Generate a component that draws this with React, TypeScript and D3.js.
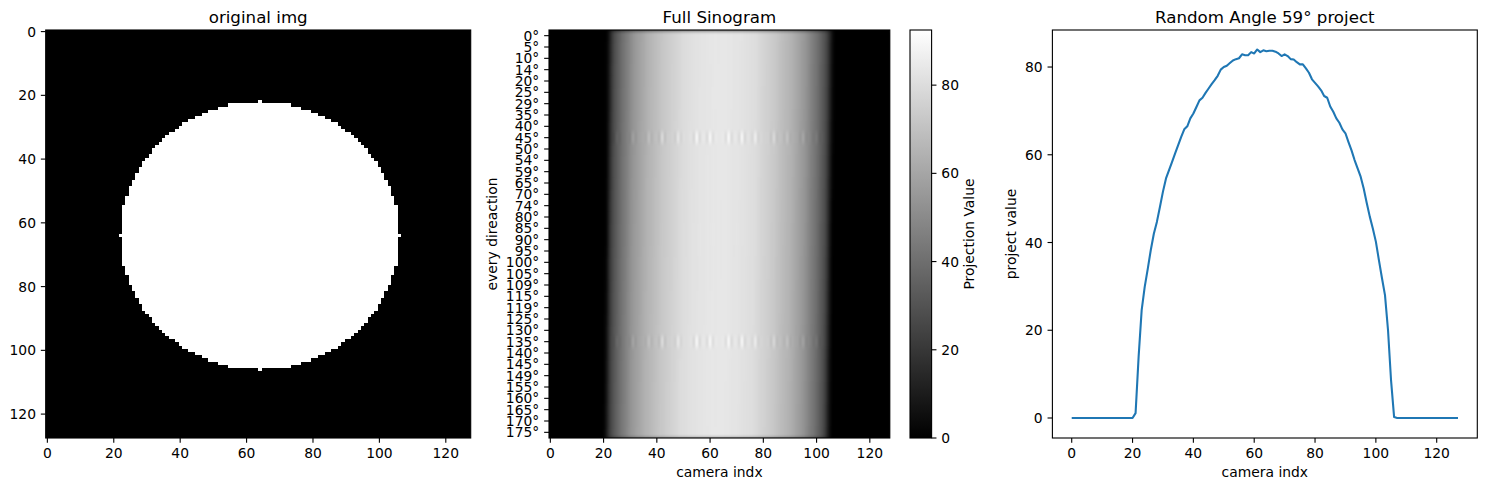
import React from "react";
import * as d3 from "d3";

const W = 1487, H = 490;
const FONT = "'DejaVu Sans', sans-serif";

const discHalfWidths = [42,41,41,41,41,41,41,41,41,41,40,40,40,39,39,39,38,38,37,37,36,36,35,35,34,33,32,32,31,30,29,28,27,25,24,23,21,19,17,15,12,9,0];
const discCentre = 64;
const imageTicks = [0,20,40,60,80,100,120];

const projection = [0,0,0,0,0,0,0,0,0,0,0,0,0,0,0,0,0,0,0,0,0,1.1,14,24.6,29.9,34,38.3,42,44.7,48.1,51.6,54.6,56.5,58.4,60.3,62.2,64.1,65.8,66.5,68.3,69.4,70.9,72.4,73,74.1,75.1,76.1,77,78,79.4,80,80.3,80.9,81.5,81.8,82,82.9,82.7,82.7,83.4,83.1,84,83.4,83.8,83.6,83.7,83.7,83.5,83.1,82.5,82.9,82.5,81.8,81.7,81.1,80.6,80.6,79.7,78.7,77.2,76.4,75.6,74.7,73.4,73,71,69.8,68.3,67.3,65.8,64.9,62.9,61,58.8,56.9,55,52.3,49,45.9,43.2,40.2,36,31.9,28,20,8.5,0.2,0,0,0,0,0,0,0,0,0,0,0,0,0,0,0,0,0,0,0,0,0];

const angleLabels = [0,5,10,14,20,25,29,35,40,45,50,54,59,65,70,74,80,85,90,95,100,105,109,115,119,125,130,135,140,145,149,155,160,165,170,175];
const rowShift = [0.55,0.5,0.5,0.45,0.45,0.4,0.4,0.35,0.3,0.3,0.25,0.2,0.2,0.15,0.1,0.05,0.05,0,0,-0.05,-0.1,-0.1,-0.15,-0.2,-0.2,-0.25,-0.3,-0.3,-0.35,-0.4,-0.4,-0.45,-0.45,-0.5,-0.5,-0.55];
const rippleRows = [9,27];
const rippleCols = [25,31,37,42,48,55,60,67,72,77,84,89,95,100];
const rippleAmps = [4,6,6,10,8,12,12,12,12,8,8,6,6,4];

const sinoMax = 92.5;
const colorbarTicks = [0,20,40,60,80];
const lineXTicks = [0,20,40,60,80,100,120];
const lineYTicks = [0,20,40,60,80];

const TOP = 30, BOTTOM = 438;
const tick = 4.86;
const fs = 13.89;

const imgL = 45.7, imgR = 470.7;
const sinoL = 549, sinoR = 889.8;
const cbL = 910, cbR = 931.6;
const lineL = 1052.4, lineR = 1477.3;

const xImg = d3.scaleLinear().domain([-0.5,127.5]).range([imgL,imgR]);
const yImg = d3.scaleLinear().domain([-0.5,127.5]).range([TOP,BOTTOM]);
const xSino = d3.scaleLinear().domain([-0.5,127.5]).range([sinoL,sinoR]);
const ySino = d3.scaleBand<number>().domain(d3.range(angleLabels.length)).range([TOP,BOTTOM]);
const gray = d3.scaleLinear<string>().domain([0,sinoMax]).range(["#000000","#ffffff"]).clamp(true);
const yCb = d3.scaleLinear().domain([0,sinoMax]).range([BOTTOM,TOP]);
const xLine = d3.scaleLinear().domain([-6.35,133.35]).range([lineL,lineR]);
const yLine = d3.scaleLinear().domain([-4.56,88.44]).range([BOTTOM,TOP]);

const at = (c: number) => {
  const i = Math.floor(c);
  if (i < 0 || i >= projection.length - 1) return 0;
  return projection[i] + (projection[i + 1] - projection[i]) * (c - i);
};

const cellValue = (r: number, c: number) => {
  let v = at(c - rowShift[r]);
  if (rippleRows.includes(r)) {
    rippleCols.forEach((rc, k) => {
      if (c === rc) v += rippleAmps[k];
      else if (Math.abs(c - rc) === 1) v -= rippleAmps[k] * 0.45;
      else if (Math.abs(c - rc) === 2) v += rippleAmps[k] * 0.12;
    });
  }
  return v;
};

const discRows = discHalfWidths.flatMap((hw, d) =>
  d === 0 ? [{ row: discCentre, hw }] : [{ row: discCentre - d, hw }, { row: discCentre + d, hw }]);

const linePath = d3.line<number>().x((_, i) => xLine(i)).y(d => yLine(d))(projection) || "";

function Frame({ l, r }: { l: number; r: number }) {
  return <rect x={l} y={TOP} width={r - l} height={BOTTOM - TOP} fill="none" stroke="#000" strokeWidth={1.11} />;
}

function XTicks({ ticks, scale }: { ticks: number[]; scale: (v: number) => number }) {
  return <g>{ticks.map(t => (
    <g key={t}>
      <line x1={scale(t)} x2={scale(t)} y1={BOTTOM} y2={BOTTOM + tick} stroke="#000" strokeWidth={1.11} />
      <text x={scale(t)} y={BOTTOM + 19.5} textAnchor="middle" fontSize={fs}>{t}</text>
    </g>
  ))}</g>;
}

function YTicks({ ticks, scale, x, labels }: { ticks: number[]; scale: (v: number) => number; x: number; labels?: string[] }) {
  return <g>{ticks.map((t, i) => (
    <g key={t}>
      <line x1={x - tick} x2={x} y1={scale(t)} y2={scale(t)} stroke="#000" strokeWidth={1.11} />
      <text x={x - tick - 4.86} y={scale(t) + 5.05} textAnchor="end" fontSize={fs}>{labels ? labels[i] : t}</text>
    </g>
  ))}</g>;
}

export default function App() {
  const cw = xSino(1) - xSino(0);
  const rows = d3.range(angleLabels.length);
  const cols = d3.range(projection.length);
  const rowH = ySino.bandwidth();
  return (
    <svg width={W} height={H} viewBox={`0 0 ${W} ${H}`} fontFamily={FONT}
      style={{ position: "absolute", left: 0, top: 0, display: "block", background: "#fff" }}>
      <defs>
        <clipPath id="sinoClip"><rect x={sinoL} y={TOP} width={sinoR - sinoL} height={BOTTOM - TOP} /></clipPath>
        <filter id="sinoBlur" filterUnits="userSpaceOnUse" x={sinoL - 20} y={TOP - 20} width={sinoR - sinoL + 40} height={BOTTOM - TOP + 40}
          colorInterpolationFilters="sRGB">
          <feGaussianBlur stdDeviation="1 2" edgeMode="duplicate" />
        </filter>
        <linearGradient id="cbGrad" x1="0" x2="0" y1="1" y2="0">
          <stop offset="0" stopColor="#000" />
          <stop offset="1" stopColor="#fff" />
        </linearGradient>
      </defs>

      {/* left image */}
      <rect x={imgL} y={TOP} width={imgR - imgL} height={BOTTOM - TOP} fill="#000" />
      <g shapeRendering="crispEdges">
        {discRows.map(d => (
          <rect key={d.row} x={xImg(discCentre - d.hw - 0.5)} y={yImg(d.row - 0.5)}
            width={xImg(discCentre + d.hw + 0.5) - xImg(discCentre - d.hw - 0.5)}
            height={yImg(d.row + 0.5) - yImg(d.row - 0.5)} fill="#fff" />
        ))}
      </g>
      <Frame l={imgL} r={imgR} />
      <XTicks ticks={imageTicks} scale={xImg} />
      <YTicks ticks={imageTicks} scale={yImg} x={imgL} />
      <text x={(imgL + imgR) / 2} y={TOP - 7.5} textAnchor="middle" fontSize={16.67}>original img</text>

      {/* sinogram */}
      <g clipPath="url(#sinoClip)">
        <rect x={sinoL} y={TOP} width={sinoR - sinoL} height={BOTTOM - TOP} fill="#000" />
        <g filter="url(#sinoBlur)">
          {rows.map(r => cols.map(c => (
            <rect key={`${r}-${c}`} x={xSino(c - 0.5)} y={ySino(r) as number} width={cw + 1} height={rowH + 1}
              fill={gray(cellValue(r, c))} />
          )))}
        </g>
      </g>
      <Frame l={sinoL} r={sinoR} />
      <XTicks ticks={imageTicks} scale={xSino} />
      <YTicks ticks={rows} scale={r => (ySino(r) as number) + rowH / 2} x={sinoL} labels={angleLabels.map(a => `${a}°`)} />
      <text x={(sinoL + sinoR) / 2} y={TOP - 7.5} textAnchor="middle" fontSize={16.67}>Full Sinogram</text>
      <text x={(sinoL + sinoR) / 2} y={477} textAnchor="middle" fontSize={fs}>camera indx</text>
      <text transform={`translate(497,${(TOP + BOTTOM) / 2}) rotate(-90)`} textAnchor="middle" fontSize={fs}>every direaction</text>

      {/* colorbar */}
      <rect x={cbL} y={TOP} width={cbR - cbL} height={BOTTOM - TOP} fill="url(#cbGrad)" stroke="#000" strokeWidth={1.11} />
      {colorbarTicks.map(t => (
        <g key={t}>
          <line x1={cbR} x2={cbR + tick} y1={yCb(t)} y2={yCb(t)} stroke="#000" strokeWidth={1.11} />
          <text x={cbR + tick + 4.86} y={yCb(t) + 5.05} fontSize={fs}>{t}</text>
        </g>
      ))}
      <text transform={`translate(974,${(TOP + BOTTOM) / 2}) rotate(-90)`} textAnchor="middle" fontSize={fs}>Projection Value</text>

      {/* line */}
      <path d={linePath} fill="none" stroke="#1f77b4" strokeWidth={2.08} strokeLinejoin="round" />
      <Frame l={lineL} r={lineR} />
      <XTicks ticks={lineXTicks} scale={xLine} />
      <YTicks ticks={lineYTicks} scale={yLine} x={lineL} />
      <text x={(lineL + lineR) / 2} y={TOP - 7.5} textAnchor="middle" fontSize={16.67}>Random Angle 59° project</text>
      <text x={(lineL + lineR) / 2} y={477} textAnchor="middle" fontSize={fs}>camera indx</text>
      <text transform={`translate(1016,${(TOP + BOTTOM) / 2}) rotate(-90)`} textAnchor="middle" fontSize={fs}>project value</text>
    </svg>
  );
}
